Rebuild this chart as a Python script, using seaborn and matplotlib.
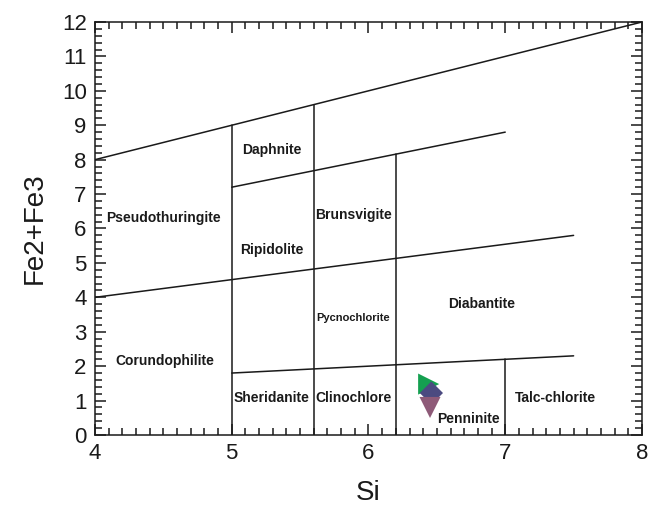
import matplotlib
matplotlib.use("Agg")
import matplotlib.pyplot as plt
from matplotlib.ticker import MultipleLocator
import seaborn as sns
import pandas as pd

# classification field boundaries (Si, Fe2+Fe3 end points)
bound_x1 = [4.0, 5.0, 4.0, 5.0, 5.0, 5.6, 6.2, 7.0]
bound_y1 = [8.0, 7.2, 4.0, 1.8, 0.0, 0.0, 0.0, 0.0]
bound_x2 = [8.0, 7.0, 7.5, 7.5, 5.0, 5.6, 6.2, 7.0]
bound_y2 = [12.0, 8.8, 5.8, 2.3, 9.0, 9.6, 8.16, 2.2]

# field names and their label positions
field_names = ["Pseudothuringite", "Daphnite", "Brunsvigite", "Ripidolite",
               "Pycnochlorite", "Diabantite", "Corundophilite", "Sheridanite",
               "Clinochlore", "Penninite", "Talc-chlorite"]
field_x = [4.5, 5.29, 5.89, 5.29, 5.89, 6.83, 4.51, 5.29, 5.89, 6.73, 7.37]
field_y = [6.3, 8.28, 6.4, 5.38, 3.4, 3.8, 2.15, 1.08, 1.08, 0.47, 1.08]
field_size = [10, 10, 10, 10, 8, 10, 10, 10, 10, 10, 10]

# samples
sample_id = ["A", "B", "C"]
sample_si = [6.44, 6.46, 6.45]
sample_fe = [1.48, 1.22, 0.80]
sample_marker = [">", "D", "v"]
sample_color = ["#14a050", "#4b4a80", "#8e5a78"]
sample_size = [230, 140, 230]

df = pd.DataFrame({"id": sample_id, "Si": sample_si, "Fe": sample_fe})

sns.set_style("ticks")
plt.rcParams["font.family"] = ["Liberation Sans", "DejaVu Sans"]

fig = plt.figure(figsize=(6.48, 5.08), dpi=100)
ax = fig.add_axes([0.1466, 0.1437, 0.8441, 0.8130])

for x1, y1, x2, y2 in zip(bound_x1, bound_y1, bound_x2, bound_y2):
    ax.plot([x1, x2], [y1, y2], color="#1a1a1a", lw=1.1)

for i in range(len(sample_id)):
    sns.scatterplot(data=df.iloc[[i]], x="Si", y="Fe", ax=ax,
                    marker=sample_marker[i], color=sample_color[i],
                    s=sample_size[i], edgecolor="none", zorder=3, legend=False)

for name, x, y, fs in zip(field_names, field_x, field_y, field_size):
    ax.text(x, y, name, ha="center", va="center", fontsize=fs,
            fontweight="bold", color="#1a1a1a",
            family=["Liberation Sans Narrow", "Liberation Sans", "DejaVu Sans"])

ax.set_xlim(4, 8)
ax.set_ylim(0, 12)
ax.xaxis.set_major_locator(MultipleLocator(1))
ax.xaxis.set_minor_locator(MultipleLocator(0.1))
ax.yaxis.set_major_locator(MultipleLocator(1))
ax.yaxis.set_minor_locator(MultipleLocator(0.2))
ax.tick_params(which="both", direction="in", top=True, right=True,
               color="#1a1a1a", width=1.1)
ax.tick_params(which="major", length=8, labelsize=16, pad=6,
               labelcolor="#1a1a1a")
ax.tick_params(which="minor", length=5)
for sp in ax.spines.values():
    sp.set_linewidth(1.1)
    sp.set_color("#1a1a1a")

ax.set_xlabel("Si", fontsize=20, color="#1a1a1a", labelpad=11)
ax.set_ylabel("Fe2+Fe3", fontsize=20, color="#1a1a1a", labelpad=10)

fig.savefig("out.png", dpi=100)
